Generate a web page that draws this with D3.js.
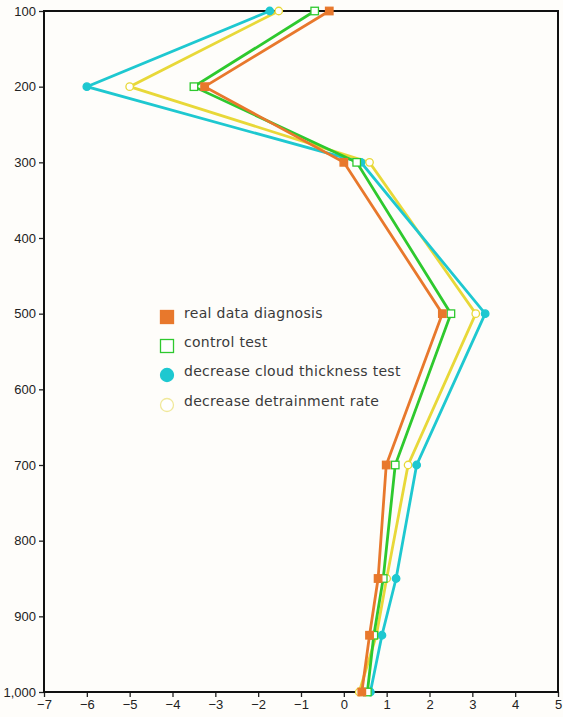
<!DOCTYPE html>
<html><head><meta charset="utf-8">
<script src="https://cdn.jsdelivr.net/npm/d3@7"></script>
<style>body{margin:0;background:#fefdfa;}svg{display:block;}</style>
</head><body>
<svg id="c" width="563" height="717"></svg>
<script>
const levels = [100, 200, 300, 500, 700, 850, 925, 1000];
const realData = [-0.34, -3.25, 0.0, 2.3, 0.99, 0.8, 0.6, 0.42];
const controlTest = [-0.68, -3.5, 0.3, 2.5, 1.2, 0.92, 0.7, 0.55];
const cloudThin = [-1.73, -6.0, 0.4, 3.3, 1.7, 1.22, 0.89, 0.62];
const detrain = [-1.52, -5.0, 0.6, 3.08, 1.5, 1.0, 0.76, 0.36];
const seriesNames = ["real data diagnosis", "control test", "decrease cloud thickness test", "decrease detrainment rate"];
const xTicks = [-7,-6,-5,-4,-3,-2,-1,0,1,2,3,4,5];
const yTicks = [100,200,300,400,500,600,700,800,900,1000];

const colors = ["#e8782c", "#2ec92e", "#1ec8d0", "#e8d838"];
const shapes = ["fsq", "osq", "fci", "oci"];
const seriesVals = [realData, controlTest, cloudThin, detrain];

const svg = d3.select("#c");
const L = 44, R = 558, T = 11, B = 692;
svg.append("rect").attr("width",563).attr("height",717).attr("fill","#fefdfa");
const x = d3.scaleLinear().domain([-7,5]).range([L,R]);
const y = d3.scaleLinear().domain([100,1000]).range([T,B]);

const font = "'Liberation Sans', Arial, sans-serif";

// axes
const gx = svg.append("g").attr("transform",`translate(0,${B})`)
  .call(d3.axisBottom(x).tickValues(xTicks).tickSize(5).tickPadding(3)
  .tickFormat(d => d < 0 ? "\u2212" + Math.abs(d) : String(d)));
const gy = svg.append("g").attr("transform",`translate(${L},0)`)
  .call(d3.axisLeft(y).tickValues(yTicks).tickSize(5).tickPadding(3));
[gx, gy].forEach(g => {
  g.select(".domain").remove();
  g.selectAll("line").attr("stroke","#222").attr("stroke-width",1.3);
  g.selectAll("text").attr("fill","#222").style("font-family",font).style("font-size","13px");
});

// frame
svg.append("rect").attr("x",L).attr("y",T).attr("width",R-L).attr("height",B-T)
  .attr("fill","none").attr("stroke","#111").attr("stroke-width",2);

function marker(g, shape, cx, cy, s, color) {
  if (shape === "fsq" || shape === "osq") {
    g.append("rect").attr("x",cx-s/2).attr("y",cy-s/2).attr("width",s).attr("height",s)
      .attr("fill", shape==="fsq" ? color : "#fff").attr("stroke",color).attr("stroke-width",1.3);
  } else {
    g.append("circle").attr("cx",cx).attr("cy",cy).attr("r",s/2)
      .attr("fill", shape==="fci" ? color : "#fff").attr("stroke",color).attr("stroke-width",1.3);
  }
}

const line = d3.line().x(d => x(d[0])).y(d => y(d[1]));
const order = [3,2,1,0];
order.forEach(i => {
  const pts = seriesVals[i].map((v,k) => [v, levels[k]]);
  const g = svg.append("g");
  g.append("path").datum(pts).attr("d",line).attr("fill","none")
    .attr("stroke",colors[i]).attr("stroke-width",2.8).attr("stroke-linejoin","miter");
  pts.forEach(p => marker(g, shapes[i], x(p[0]), y(p[1]), 7.5, colors[i]));
});

// legend
const legY = [317, 346, 375, 405];
seriesNames.forEach((n,i) => {
  const g = svg.append("g");
  const s = 13;
  marker(g, shapes[i], 167, legY[i], s, colors[i] === "#e8d838" ? "#f0e89a" : colors[i]);
  g.append("text").attr("x",184).attr("y",legY[i]+1).text(n)
    .attr("fill","#3a3a3a").style("font-family","'DejaVu Sans', sans-serif").style("font-size","14px")
    .style("letter-spacing","0.3px");
});
</script>
</body></html>
